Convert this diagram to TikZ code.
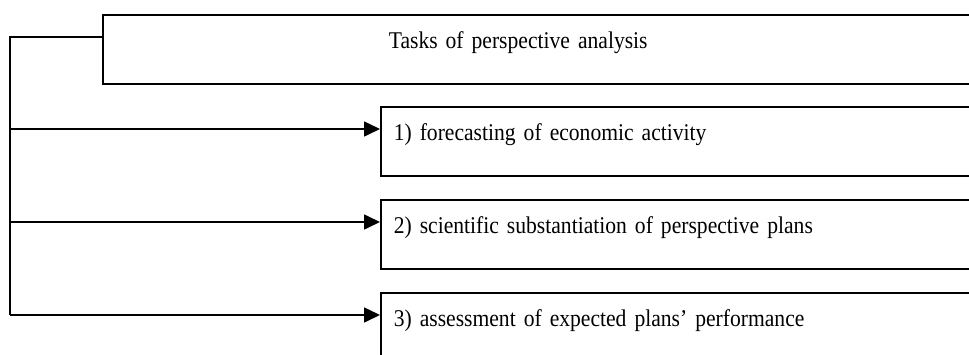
\documentclass[tikz,border=0pt]{standalone}
\usepackage{fontspec}
\setmainfont{Liberation Serif}[FakeStretch=0.9]
\usetikzlibrary{arrows.meta,positioning}

\protected\def\taskfont{\fontsize{12}{14}\selectfont\spaceskip=0.19em\relax}

\begin{document}
\begin{tikzpicture}[
    x=0.5pt, y=-0.5pt,
    box/.style={rectangle, draw, anchor=north west, align=left, text width=320pt,
                inner xsep=6.5pt, inner ysep=0pt, text height=17pt, text depth=17.5pt,
                font=\taskfont},
    arrow/.style={-{Triangle[length=8pt, width=7.5pt]}},
    line width=0.8pt,
]
    \useasboundingbox (0,0) rectangle (969,354);
    \clip (0,0) rectangle (969,354);

    \node[box, text width=200pt, inner xsep=143pt] (tasks) at (102,14) {Tasks of perspective analysis};
    \node[box] (task1) at (380,106) {1) forecasting of economic activity};
    \node[box] (task2) at (380,199) {2) scientific substantiation of perspective plans};
    \node[box] (task3) at (380,292) {3) assessment of expected plans’ performance};

    \coordinate (trunk) at (10,37);
    \draw (tasks.west |- trunk) -- (trunk) -- ([yshift=-11.5pt]task3.north west -| trunk);
    \foreach \n in {task1,task2,task3}
        \draw[arrow] ([yshift=-11.5pt]\n.north west -| trunk) -- ([yshift=-11.5pt]\n.north west);
\end{tikzpicture}
\end{document}
